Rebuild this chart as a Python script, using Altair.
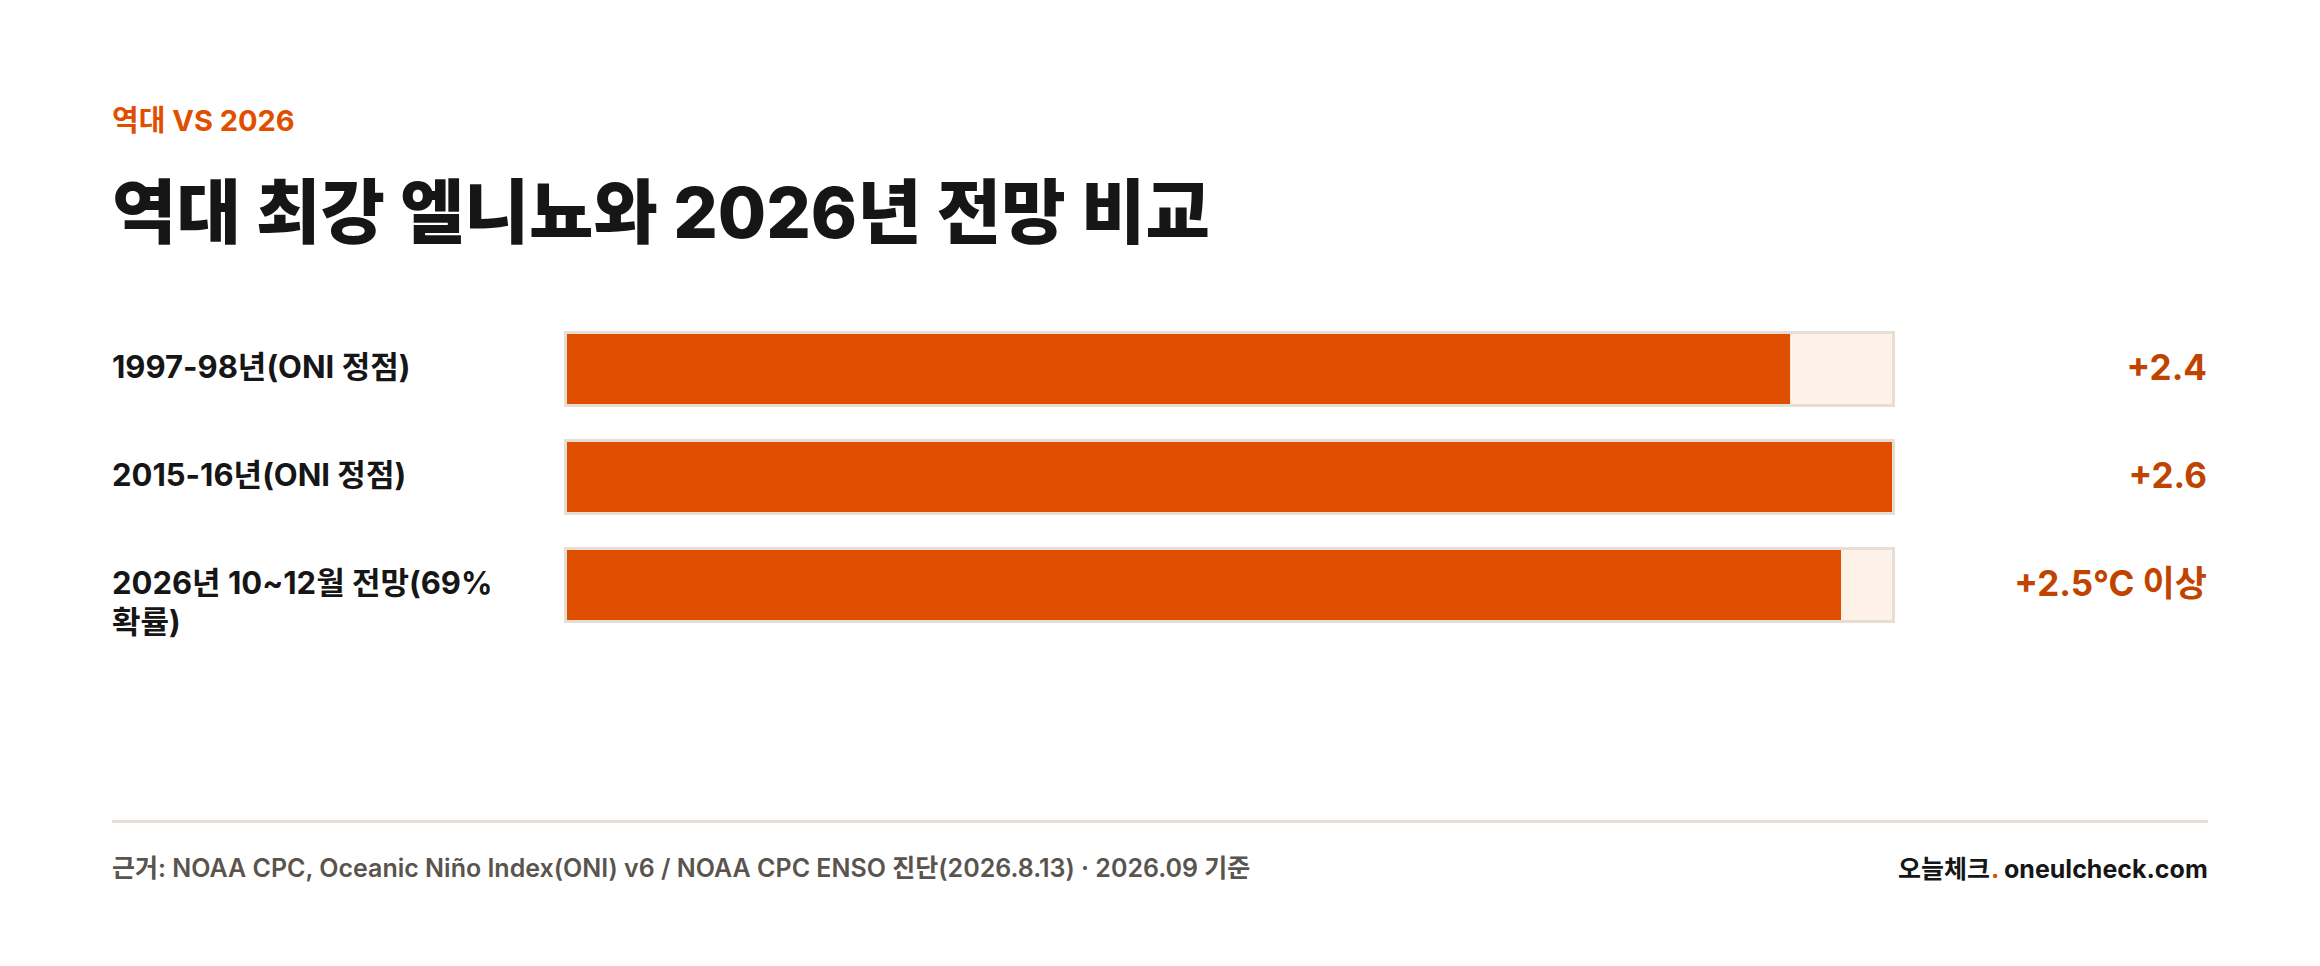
import pandas as pd
import altair as alt

# data
categories = ['1997-98년(ONI 정점)', '2015-16년(ONI 정점)', '2026년 10~12월 전망(69% 확률)']
row_labels = ['1997-98년(ONI 정점)', '2015-16년(ONI 정점)', '2026년 10~12월 전망(69%\n확률)']
oni_values = [2.4, 2.6, 2.5]
value_labels = ['+2.4', '+2.6', '+2.5°C 이상']
track_max = 2.6

eyebrow = '역대 VS 2026'
headline = '역대 최강 엘니뇨와 2026년 전망 비교'
source_note = '근거: NOAA CPC, Oceanic Niño Index(ONI) v6 / NOAA CPC ENSO 진단(2026.8.13) · 2026.09 기준'
brand_kr = '오늘체크'
brand_dot = '.'
brand_url = 'oneulcheck.com'

FONT = 'Inter, "Noto Sans CJK KR", sans-serif'
ORANGE = '#E04E00'
ORANGE_TEXT = '#C04400'
TRACK_FILL = '#FDF1E8'
TRACK_LINE = '#E6DDD4'
INK = '#161616'
GRAY = '#5A544E'

df = pd.DataFrame({
    'category': categories,
    'label': row_labels,
    'oni': oni_values,
    'value_label': value_labels,
    'track_max': [track_max] * len(categories),
})

x_scale = alt.Scale(domain=[0, track_max], range=[559, 1884])
y_scale = alt.Scale(domain=categories, range=[326, 612], paddingInner=0.352, paddingOuter=0)
y_enc = alt.Y('category:N', scale=y_scale, axis=None, sort=categories)

base = alt.Chart(df)

track = base.mark_bar(
    fill=TRACK_FILL, stroke=TRACK_LINE, strokeWidth=3, height=73,
    xOffset=-1.5, x2Offset=1.5
).encode(
    x=alt.X('zero:Q', scale=x_scale, axis=None),
    x2='track_max:Q',
    y=y_enc,
).transform_calculate(zero='0')

bars = base.mark_bar(fill=ORANGE).encode(
    x=alt.X('oni:Q', scale=x_scale, axis=None),
    y=y_enc,
)

left_labels = base.mark_text(
    align='left', baseline='middle', font=FONT, fontSize=31, fontWeight='bold',
    color=INK, lineBreak='\n', lineHeight=39
).encode(
    x=alt.value(104),
    y=y_enc,
    text='label:N',
)

right_labels = base.mark_text(
    align='right', baseline='middle', font=FONT, fontSize=35, fontWeight='bold',
    color=ORANGE_TEXT
).encode(
    x=alt.value(2199),
    y=y_enc,
    text='value_label:N',
)

one = pd.DataFrame({'k': [0]})

def text_layer(txt, x, y, size, color, align='left', weight='bold'):
    return alt.Chart(one).mark_text(
        align=align, baseline='alphabetic', font=FONT, fontSize=size,
        fontWeight=weight, color=color
    ).encode(x=alt.value(x), y=alt.value(y), text=alt.value(txt))

eyebrow_txt = text_layer(eyebrow, 104, 123, 29, ORANGE)
headline_txt = text_layer(headline, 104, 230, 70, INK, weight=800)

divider = alt.Chart(one).mark_rule(color=TRACK_LINE, strokeWidth=3).encode(
    x=alt.value(104), x2=alt.value(2200), y=alt.value(813.5)
)

source_txt = text_layer(source_note, 104, 869, 25, GRAY, weight=600)
brand_a = text_layer(brand_kr, 1982, 870, 25, INK, align='right')
brand_b = text_layer(brand_dot, 1983, 870, 25, ORANGE)
brand_c = text_layer(brand_url, 1996, 870, 25, INK)

chart = alt.layer(
    track, bars, left_labels, right_labels,
    eyebrow_txt, headline_txt, divider, source_txt,
    brand_a, brand_b, brand_c
).properties(
    width=2304, height=945, padding=0,
    autosize=alt.AutoSizeParams(type='none'),
    background='white'
).configure_view(stroke=None)

chart.save('out.html', embed_options={'renderer': 'svg', 'actions': False})
